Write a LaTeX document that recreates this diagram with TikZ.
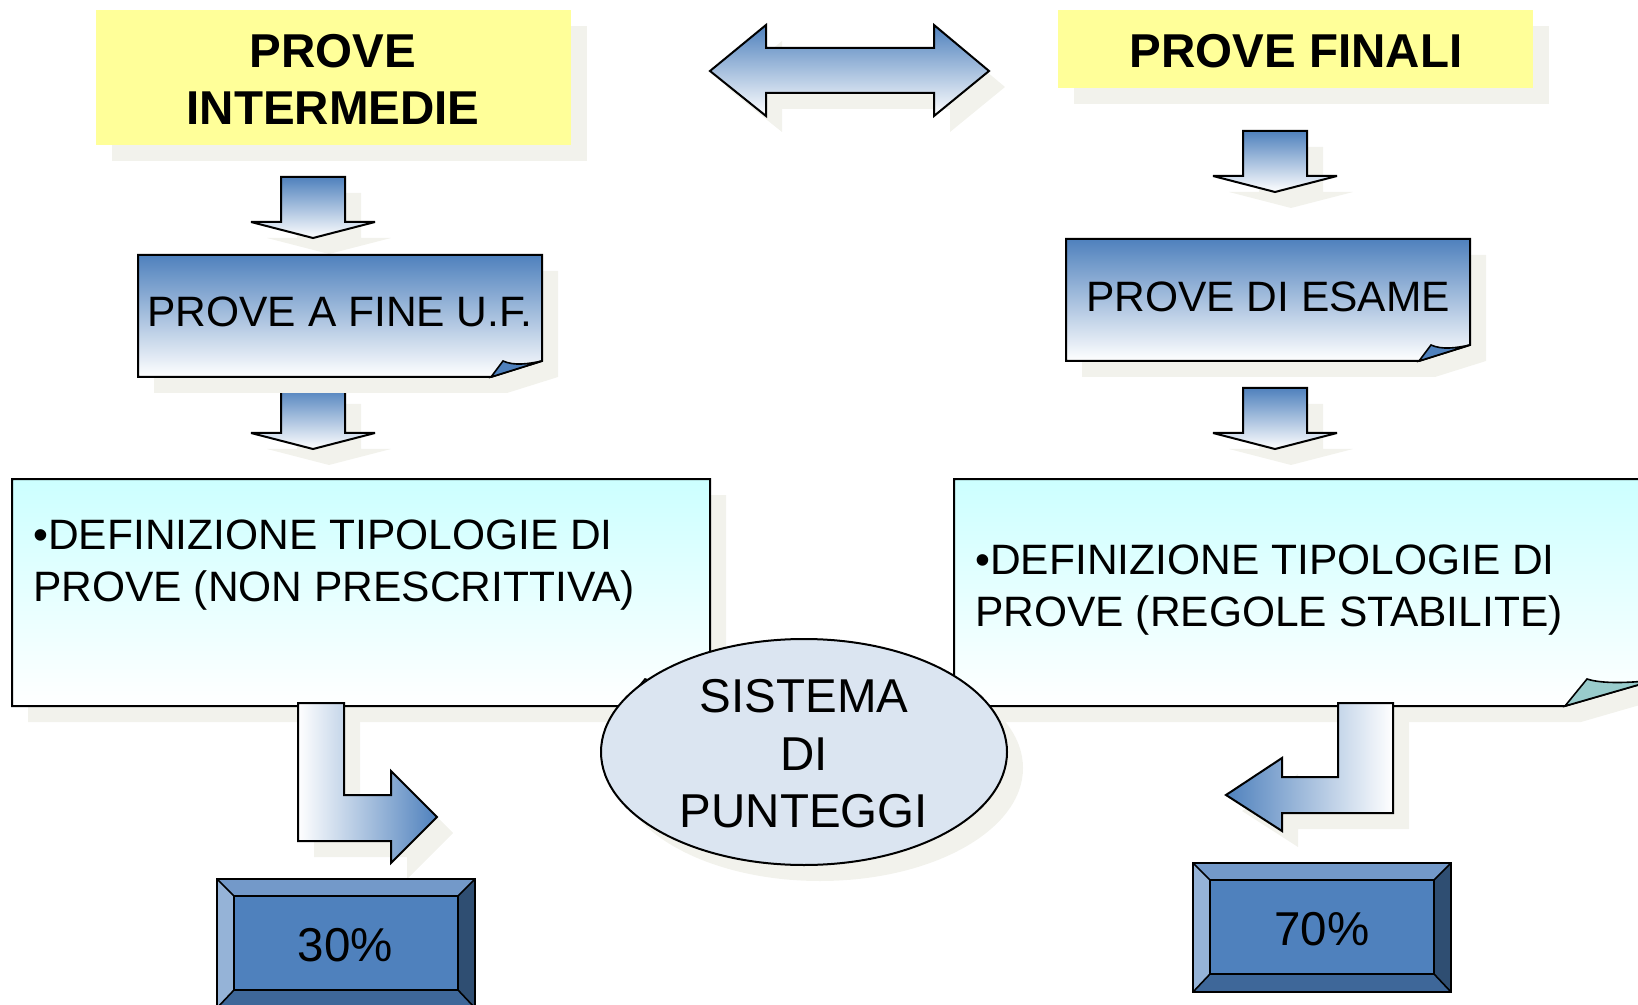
\documentclass[tikz,border=0pt]{standalone}
\usepackage{fontspec}
\setmainfont{Liberation Sans}
\usetikzlibrary{shadows,calc}
\definecolor{pblue}{HTML}{4F81BD}
\definecolor{pyellow}{HTML}{FFFF99}
\definecolor{pcyan}{HTML}{CCFFFF}
\definecolor{pflap}{HTML}{99CCCC}
\definecolor{pellipse}{HTML}{DBE5F1}
\definecolor{pshadow}{HTML}{F2F2EC}
\definecolor{bevtop}{HTML}{7399C9}
\definecolor{bevleft}{HTML}{95B3D7}
\definecolor{bevright}{HTML}{2F4E72}
\definecolor{bevbottom}{HTML}{3E6799}
\tikzset{dropshade/.style={drop shadow={shadow xshift=8pt,shadow yshift=-8pt,fill=pshadow,opacity=1}}}
\tikzset{titlebox/.style={fill=pyellow,dropshade}}
\tikzset{bluebox/.style={draw=black,line width=1pt,top color=pblue,bottom color=white,dropshade}}
\tikzset{cyanbox/.style={draw=black,line width=1pt,top color=pcyan,bottom color=white,dropshade}}
\tikzset{arrowbox/.style={draw=black,line width=1pt,miter limit=3,top color=pblue,bottom color=white,dropshade}}
\tikzset{foldblue/.style={draw=black,line width=0.8pt,fill=pblue}}
\tikzset{foldcyan/.style={draw=black,line width=0.8pt,fill=pflap}}
\tikzset{titletext/.style={font=\fontsize{23.75pt}{28.5pt}\selectfont\bfseries,align=center,inner sep=0pt}}
\tikzset{bodytext/.style={font=\fontsize{21.25pt}{26pt}\selectfont,align=left,inner sep=0pt}}
\tikzset{bigtext/.style={font=\fontsize{23.75pt}{28.75pt}\selectfont,align=center,inner sep=0pt}}
\tikzset{pics/downarr/.style={code={
  \draw [arrowbox] (-32,0) -- (32,0) -- (32,45) -- (62,45) -- (0,61) -- (-62,45) -- (-32,45) -- cycle;
}}}
\tikzset{pics/bevelbox/.style={code={
  \fill [bevtop] (0,0) -- (258,0) -- (241,17) -- (17,17) -- cycle;
  \fill [bevleft] (0,0) -- (17,17) -- (17,111) -- (0,129) -- cycle;
  \fill [bevright] (258,0) -- (258,129) -- (241,111) -- (241,17) -- cycle;
  \fill [bevbottom] (0,129) -- (17,111) -- (241,111) -- (258,129) -- cycle;
  \draw [line width=1pt,fill=pblue] (17,17) rectangle (241,111);
  \draw [line width=1pt] (0,0) rectangle (258,129);
  \draw [line width=0.8pt] (0,0) -- (17,17) (258,0) -- (241,17) (258,129) -- (241,111) (0,129) -- (17,111);
}}}

\begin{document}
\begin{tikzpicture}[x=0.5pt,y=-0.5pt]
	\useasboundingbox (0,0) rectangle (1638,1005);
	% corners of the two title boxes
	\coordinate (ti1) at (96,10);
	\coordinate (ti2) at (571,145);
	\coordinate (tf1) at (1058,10);
	\coordinate (tf2) at (1533,88);
	% tops of the down arrows
	\coordinate (dl1) at (313,177);
	\coordinate (dl2) at (313,388);
	\coordinate (dr1) at (1275,131);
	\coordinate (dr2) at (1275,388);

	\fill [titlebox] (ti1) rectangle (ti2);
	\fill [titlebox] (tf1) rectangle (tf2);
	\node [titletext] (tint) at (333,79.5) {PROVE\\INTERMEDIE};
	\node [titletext] (tfin) at (1296,51) {PROVE FINALI};

	% double arrow between the titles
	\draw [arrowbox] (710,71) -- (766,25) -- (766,48) -- (934,48) -- (934,25) -- (989,71) -- (934,116) -- (934,93) -- (766,93) -- (766,116) -- cycle;

	\pic at (dl1) {downarr};
	\pic at (dl2) {downarr};
	\pic at (dr1) {downarr};
	\pic at (dr2) {downarr};

	% blue boxes with folded corner
	\draw [bluebox] (138,255) -- (542,255) -- (542,361) -- (491,377) -- (138,377) -- cycle;
	\draw [foldblue] (491,377) -- (503,361) .. controls (514,366) and (528,364) .. (542,361) -- cycle;
	\node [bodytext] (pfine) at (340,312) {PROVE A FINE U.F.};
	\draw [bluebox] (1066,239) -- (1470,239) -- (1470,345) -- (1419,361) -- (1066,361) -- cycle;
	\draw [foldblue] (1419,361) -- (1431,345) .. controls (1442,350) and (1456,348) .. (1470,345) -- cycle;
	\node [bodytext] (pesame) at (1268,297) {PROVE DI ESAME};

	% cyan boxes, text anchored on the last line
	\draw [cyanbox] (12,479) -- (710,479) -- (710,680) -- (623,706) -- (12,706) -- cycle;
	\draw [foldcyan] (623,706) -- (645,679) .. controls (660,684) and (685,683) .. (710,680) -- cycle;
	\node [bodytext,anchor=base west] (defl) at (33,601) {•DEFINIZIONE TIPOLOGIE DI\\PROVE (NON PRESCRITTIVA)};
	\draw [cyanbox] (954,479) -- (1655,479) -- (1655,680) -- (1565,706) -- (954,706) -- cycle;
	\draw [foldcyan] (1565,706) -- (1587,679) .. controls (1602,684) and (1630,683) .. (1655,680) -- cycle;
	\node [bodytext,anchor=base west] (defr) at (975,626) {•DEFINIZIONE TIPOLOGIE DI\\PROVE (REGOLE STABILITE)};

	% bent arrows to the percentages
	\draw [draw=black,line width=1pt,miter limit=3,left color=white,right color=pblue,dropshade] (298,703) -- (344,703) -- (344,795) -- (391,795) -- (391,771) -- (437,817) -- (391,863) -- (391,841) -- (298,841) -- cycle;
	\draw [draw=black,line width=1pt,miter limit=3,left color=pblue,right color=white,dropshade] (1393,703) -- (1338,703) -- (1338,777) -- (1282,777) -- (1282,758) -- (1226,795) -- (1282,831) -- (1282,813) -- (1393,813) -- cycle;

	% scoring system
	\draw [line width=1pt,fill=pellipse,dropshade] (804,752) ellipse [x radius=203,y radius=113];
	\node [bigtext] (sistema) at (804,754) {SISTEMA\\DI\\PUNTEGGI};

	\pic at (217,879) {bevelbox};
	\pic at (1193,863) {bevelbox};
	\node [bigtext] (p30) at (345.5,945) {30\%};
	\node [bigtext] (p70) at (1322,929) {70\%};
\end{tikzpicture}
\end{document}
